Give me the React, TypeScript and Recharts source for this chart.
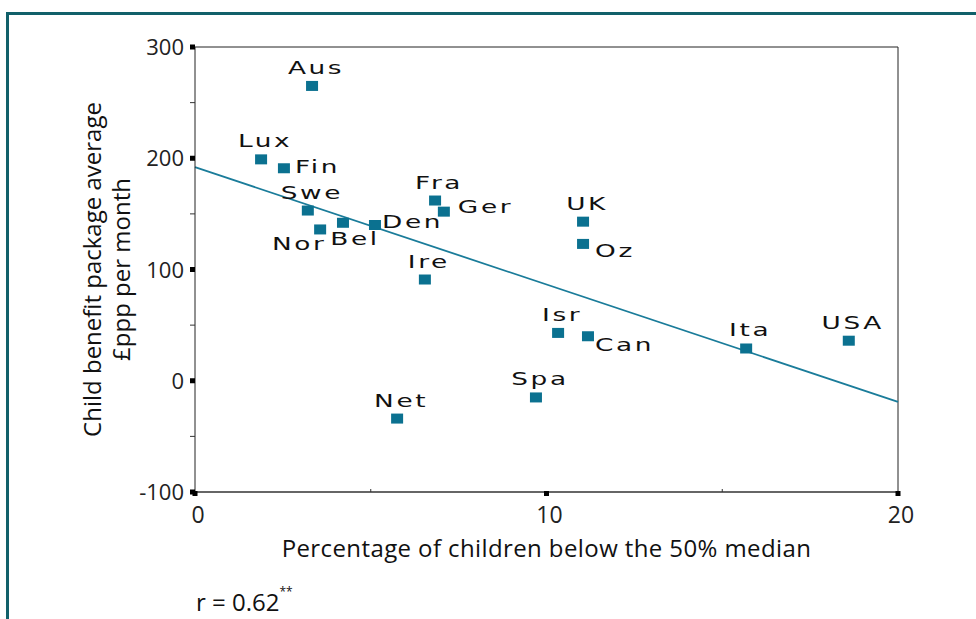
import React from 'react';
import { ScatterChart, Scatter, XAxis, YAxis, ReferenceLine, Label } from 'recharts';

const countries = ['Aus', 'Lux', 'Fin', 'Swe', 'Nor', 'Bel', 'Den', 'Fra', 'Ger', 'UK', 'Oz', 'Ire', 'Isr', 'Can', 'Ita', 'USA', 'Spa', 'Net'];
const childPoverty = [3.33, 1.88, 2.53, 3.21, 3.56, 4.21, 5.12, 6.83, 7.08, 11.04, 11.04, 6.54, 10.33, 11.18, 15.68, 18.6, 9.7, 5.75];
const benefitPackage = [265, 199, 191, 153, 136, 142, 140, 162, 152, 143, 123, 91, 43, 40, 29, 36, -15, -34];
const fitLine = [{ x: 0, y: 192 }, { x: 20, y: -19 }];
const xTicks = [0, 5, 10, 15, 20];
const yTicks = [-100, -50, 0, 50, 100, 150, 200, 250, 300];

const data = countries.map((name, i) => ({ name, x: childPoverty[i], y: benefitPackage[i] }));

const MARKER = '#0b7190';
const LINE = '#1a7c9a';
const BORDER = '#11606a';

// label placement: [dx, dy, anchor]
const labelPlace: Record<string, [number, number, string]> = {
  Fin: [11, 5, 'start'],
  Den: [7, 3, 'start'],
  Ger: [14, 1, 'start'],
  Nor: [-21, 21, 'middle'],
  Bel: [12, 22, 'middle'],
  Oz: [12, 13, 'start'],
  Can: [7, 15, 'start'],
};

const Marker = (props: any) => {
  const { cx, cy, payload } = props;
  const p = labelPlace[payload.name] || [4, -12, 'middle'];
  return (
    <g>
      <rect x={cx - 6} y={cy - 5} width={12} height={10} fill={MARKER} />
      <text
        transform={`translate(${cx + p[0]},${cy + p[1]}) scale(1.55,1)`}
        textAnchor={p[2] as any}
        fontFamily="DejaVu Sans"
        fontSize={17}
        letterSpacing={1.7}
        fill="#111"
      >
        {payload.name}
      </text>
    </g>
  );
};

const YTick = (props: any) => {
  const { x, y, payload } = props;
  const v = payload.value;
  if (v % 100 === 0) {
    return (
      <g>
        <rect x={x - 5} y={y - 2.5} width={5} height={5} fill="#000" />
        <text x={x - 11} y={y + 8} textAnchor="end" fontFamily="Open Sans" fontSize={22} fill="#222">{v}</text>
      </g>
    );
  }
  return <line x1={x - 5} x2={x} y1={y} y2={y} stroke="#333" strokeWidth={1} />;
};

const XTick = (props: any) => {
  const { x, y, payload } = props;
  const v = payload.value;
  if (v % 10 === 0) {
    return (
      <g>
        <rect x={x - 2.5} y={y - 1} width={5} height={5} fill="#000" />
        <text x={x + 3} y={y + 31} textAnchor="middle" fontFamily="Open Sans" fontSize={23} fill="#222">{v}</text>
      </g>
    );
  }
  return <line x1={x} x2={x} y1={y} y2={y - 3} stroke="#333" strokeWidth={1} />;
};

const YTitle = (props: any) => {
  const vb = props.viewBox;
  const cy = vb.y + vb.height / 2;
  return (
    <g fontFamily="Open Sans" fontSize={24} fill="#111">
      <text transform={`translate(${vb.x + 101},${cy}) rotate(-90)`} textAnchor="middle">Child benefit package average</text>
      <text transform={`translate(${vb.x + 130},${cy}) rotate(-90)`} textAnchor="middle">£ppp per month</text>
    </g>
  );
};

const XTitle = (props: any) => {
  const vb = props.viewBox;
  return (
    <text x={vb.x + vb.width / 2} y={vb.y + 65} textAnchor="middle" fontFamily="Open Sans" fontSize={24} letterSpacing={0.4} fill="#111">
      Percentage of children below the 50% median
    </text>
  );
};

export default function App() {
  return (
    <div style={{ position: 'absolute', left: 0, top: 0, width: 976, height: 619, background: '#fff', overflow: 'hidden' }}>
      <div style={{ position: 'absolute', left: 6, top: 12, right: 0, bottom: 0, borderTop: `3px solid ${BORDER}`, borderLeft: `3px solid ${BORDER}` }} />
      <div style={{ position: 'absolute', left: 0, top: 0 }}>
        <ScatterChart width={976} height={619} margin={{ top: 47, right: 78, bottom: 97, left: 0 }}>
          <XAxis
            type="number"
            dataKey="x"
            domain={[0, 20]}
            ticks={xTicks}
            interval={0}
            height={30}
            tickSize={0}
            tickMargin={0}
            tickLine={false}
            tick={XTick}
            axisLine={{ stroke: '#666', strokeWidth: 2 }}
          >
            <Label content={XTitle} />
          </XAxis>
          <YAxis
            type="number"
            dataKey="y"
            domain={[-100, 300]}
            ticks={yTicks}
            interval={0}
            width={195}
            tickSize={0}
            tickMargin={0}
            tickLine={false}
            tick={YTick}
            axisLine={{ stroke: '#222', strokeWidth: 1 }}
          >
            <Label content={YTitle} />
          </YAxis>
          <ReferenceLine y={300} stroke="#222" strokeWidth={1} />
          <ReferenceLine x={20} stroke="#222" strokeWidth={1} />
          <ReferenceLine segment={fitLine} stroke={LINE} strokeWidth={1.8} />
          <Scatter data={data} shape={Marker} isAnimationActive={false} />
        </ScatterChart>
      </div>
      <div style={{ position: 'absolute', left: 196, top: 585, fontFamily: 'Open Sans', fontSize: 24, color: '#111', whiteSpace: 'nowrap' }}>
        r = 0.62<sup style={{ fontSize: 12, verticalAlign: 'top', position: 'relative', top: -2 }}>**</sup>
      </div>
    </div>
  );
}
